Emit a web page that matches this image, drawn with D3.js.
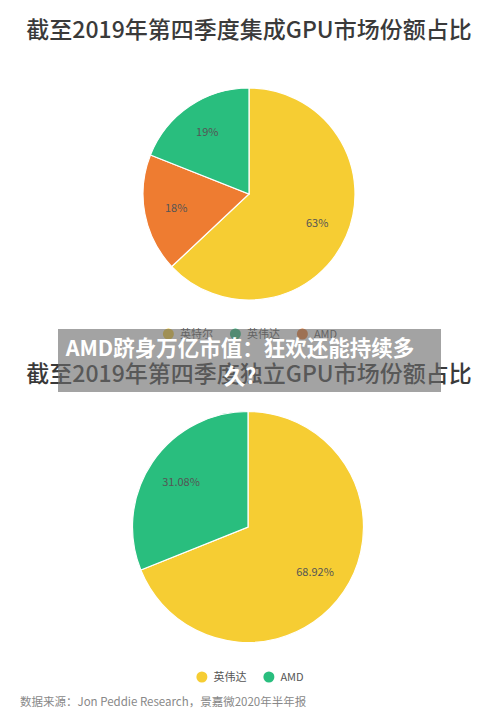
<!DOCTYPE html>
<html><head><meta charset="utf-8">
<script src="https://cdn.jsdelivr.net/npm/d3@7"></script>
<style>
body{margin:0;background:#fff;}
svg{display:block;font-family:"Noto Sans CJK SC","Noto Sans",sans-serif;}
</style></head>
<body>
<svg id="c" width="500" height="721"></svg>
<script>
const title1 = "截至2019年第四季度集成GPU市场份额占比";
const categories1 = ["英特尔", "AMD", "英伟达"];
const values1 = [63, 18, 19];
const labels1 = ["63%", "18%", "19%"];
const legend1 = ["英特尔", "英伟达", "AMD"];

const title2 = "截至2019年第四季度独立GPU市场份额占比";
const categories2 = ["英伟达", "AMD"];
const values2 = [68.92, 31.08];
const labels2 = ["68.92%", "31.08%"];
const legend2 = ["英伟达", "AMD"];

const bannerLines = ["AMD跻身万亿市值：狂欢还能持续多", "久?"];
const sourceText = "数据来源：Jon Peddie Research，景嘉微2020年半年报";

const palette = ["#F6CD33", "#29BE7E", "#EE7C31"];

const svg = d3.select("#c");

function colorFor(legend) {
  return d3.scaleOrdinal().domain(legend).range(palette);
}

function drawPie(cats, vals, labs, legend, cx, cy, r) {
  const color = colorFor(legend);
  const data = cats.map((c,i)=>({cat:c, v:vals[i], lab:labs[i]}));
  const pie = d3.pie().sort(null).value(d=>d.v);
  const arc = d3.arc().innerRadius(0).outerRadius(r);
  const labelArc = d3.arc().innerRadius(r*0.7).outerRadius(r*0.7);
  const g = svg.append("g").attr("transform",`translate(${cx},${cy})`);
  const arcs = pie(data);
  g.selectAll("path").data(arcs).join("path")
    .attr("d", arc).attr("fill", d=>color(d.data.cat))
    .attr("stroke","#fff").attr("stroke-width",1.2);
  g.selectAll("text").data(arcs).join("text")
    .attr("transform", d=>`translate(${labelArc.centroid(d)})`)
    .attr("text-anchor","middle").attr("dy","0.35em")
    .attr("font-size",11).attr("fill","#555")
    .text(d=>d.data.lab);
}

function drawLegend(items, cy) {
  const color = colorFor(items);
  const g = svg.append("g");
  const fs = 11, dotR = 5.5, gapDot = 6, gapItem = 17;
  let x = 0;
  const placed = [];
  items.forEach(it=>{
    const t = g.append("text").attr("font-size",fs).attr("fill","#555").text(it);
    const w = t.node().getComputedTextLength();
    placed.push({it, t, x, w});
    x += dotR*2 + gapDot + w + gapItem;
  });
  const total = x - gapItem;
  const x0 = 250 - total/2;
  placed.forEach(p=>{
    g.append("circle").attr("cx", x0+p.x+dotR).attr("cy", cy).attr("r", dotR).attr("fill", color(p.it));
    p.t.attr("x", x0+p.x+dotR*2+gapDot).attr("y", cy).attr("dy","0.35em");
  });
}

function drawTitle(t, y) {
  svg.append("text").attr("x",249).attr("y",y).attr("text-anchor","middle")
    .attr("font-size",23).attr("fill","#3a3a3a").attr("font-weight",500).text(t);
}

drawTitle(title1, 38);
drawPie(categories1, values1, labels1, legend1, 249, 194, 106);
drawLegend(legend1, 334);

drawTitle(title2, 382);
drawPie(categories2, values2, labels2, legend2, 248, 527, 115.5);
drawLegend(legend2, 677);

svg.append("text").attr("x",20).attr("y",706).attr("font-size",11.5).attr("fill","#888").text(sourceText);

// overlay banner
svg.append("rect").attr("x",58).attr("y",329).attr("width",383).attr("height",63)
  .attr("fill","#6a6a6a").attr("opacity",0.62);
svg.append("g").selectAll("text").data(bannerLines).join("text")
  .attr("x",240).attr("y",(d,i)=>356+i*28).attr("text-anchor","middle")
  .attr("font-size",21.5).attr("font-weight",700).attr("fill","#fff").text(d=>d);
</script>
</body></html>
